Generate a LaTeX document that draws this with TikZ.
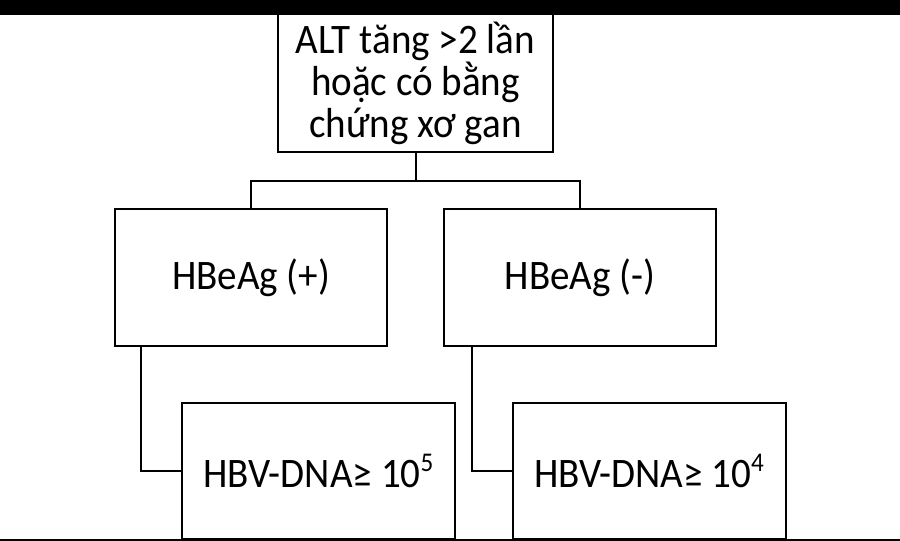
\documentclass[tikz,border=0pt]{standalone}
\usepackage{fontspec}
\setmainfont{Carlito}[FakeStretch=0.93]
\newcommand{\supnum}[1]{\raisebox{0.36em}{\fontsize{27}{27}\selectfont #1}}
\begin{document}
\begin{tikzpicture}[x=1pt,y=-1pt,
  box/.style={draw=black, line width=2pt, rectangle, inner sep=0pt, align=center,
    font=\fontsize{42}{42}\selectfont},
  conn/.style={draw=black, line width=2pt}]
\useasboundingbox (0,0) rectangle (900,541);
\fill[white] (0,0) rectangle (900,541);
% nodes
\node[box, minimum width=275pt, minimum height=138pt] (top) at (415.5,83)
  {ALT tăng >2 lần\\hoặc có bằng\\chứng xơ gan};
\node[box, minimum width=272pt, minimum height=137pt] (L1) at (251,277.5) {HBeAg (+)};
\node[box, minimum width=272pt, minimum height=137pt] (R1) at (580,277.5) {HBeAg (-)};
\node[box, minimum width=273pt, minimum height=136pt] (L2) at (318.5,471) {HBV-DNA≥ 10\supnum{5}};
\node[box, minimum width=273pt, minimum height=136pt] (R2) at (649,471) {HBV-DNA≥ 10\supnum{4}};
% connectors
\coordinate (j) at (415.5,180.5);
\draw[conn] (top.south) -- (j);
\draw[conn] (L1.north) |- (j) -| (R1.north);
\draw[conn] ([xshift=-110pt]L1.south) |- (L2.west);
\draw[conn] ([xshift=-108pt]R1.south) |- (R2.west);
% frame bands
\fill[black] (0,0) rectangle (900,15);
\fill[black] (0,539) rectangle (900,541);
\end{tikzpicture}
\end{document}
